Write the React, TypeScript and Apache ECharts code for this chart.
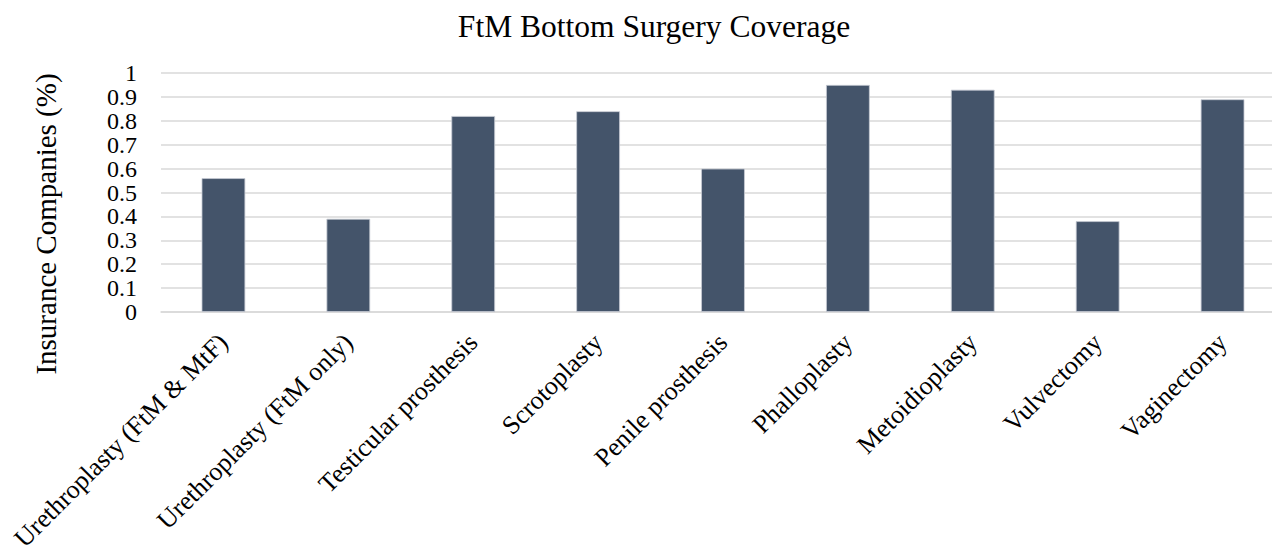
import React, { useEffect, useRef } from "react";
import * as echarts from "echarts";

const categories = [
  "Urethroplasty (FtM & MtF)",
  "Urethroplasty (FtM only)",
  "Testicular prosthesis",
  "Scrotoplasty",
  "Penile prosthesis",
  "Phalloplasty",
  "Metoidioplasty",
  "Vulvectomy",
  "Vaginectomy",
];
const coverage = [0.56, 0.39, 0.82, 0.84, 0.6, 0.95, 0.93, 0.38, 0.89];

const titleText = "FtM Bottom Surgery Coverage";
const yAxisName = "Insurance Companies (%)";
const FONT = "'Liberation Serif', 'Times New Roman', serif";

export default function App() {
  const ref = useRef<HTMLDivElement>(null);
  useEffect(() => {
    document.body.style.margin = "0";
    const chart = echarts.init(ref.current!, null, { renderer: "svg" });
    chart.setOption({
      animation: false,
      backgroundColor: "#ffffff",
      textStyle: { fontFamily: FONT },
      title: {
        text: titleText,
        left: 649,
        textAlign: "center",
        top: 5,
        textStyle: { fontFamily: FONT, fontSize: 31.5, fontWeight: "normal", color: "#000" },
      },
      grid: { left: 161, right: 0, top: 73, bottom: 234, outerBoundsMode: "none", containLabel: false },
      graphic: [
        {
          type: "text",
          x: 46,
          y: 224,
          rotation: Math.PI / 2,
          style: {
            text: yAxisName,
            font: "29px " + FONT,
            fill: "#000",
            align: "center",
            verticalAlign: "middle",
          },
        },
      ],
      xAxis: {
        type: "category",
        data: categories,
        axisLine: { show: true, lineStyle: { color: "#d9d9d9", width: 1.5 } },
        axisTick: { show: false },
        axisLabel: {
          interval: 0,
          rotate: 45,
          margin: 26,
          fontSize: 26,
          fontFamily: FONT,
          color: "#000",
        },
      },
      yAxis: {
        type: "value",
        min: 0,
        max: 1,
        interval: 0.1,
        axisLine: { show: false },
        axisTick: { show: false },
        splitLine: { lineStyle: { color: "#d9d9d9", width: 1.5 } },
        axisLabel: {
          margin: 24,
          fontSize: 24,
          lineHeight: 20,
          showMinLabel: true,
          showMaxLabel: true,
          fontFamily: FONT,
          color: "#000",
          formatter: (v: number) => String(+v.toFixed(1)),
        },
      },
      series: [
        {
          type: "bar",
          data: coverage,
          barWidth: "35%",
          itemStyle: { color: "#44546A", borderColor: "#c8ccd4", borderWidth: 0.8 },
        },
      ],
    });
    return () => chart.dispose();
  }, []);
  return (
    <div style={{ width: 1272, height: 546, overflow: "hidden", position: "relative" }}>
      <div ref={ref} style={{ width: 1285, height: 546 }} />
    </div>
  );
}
